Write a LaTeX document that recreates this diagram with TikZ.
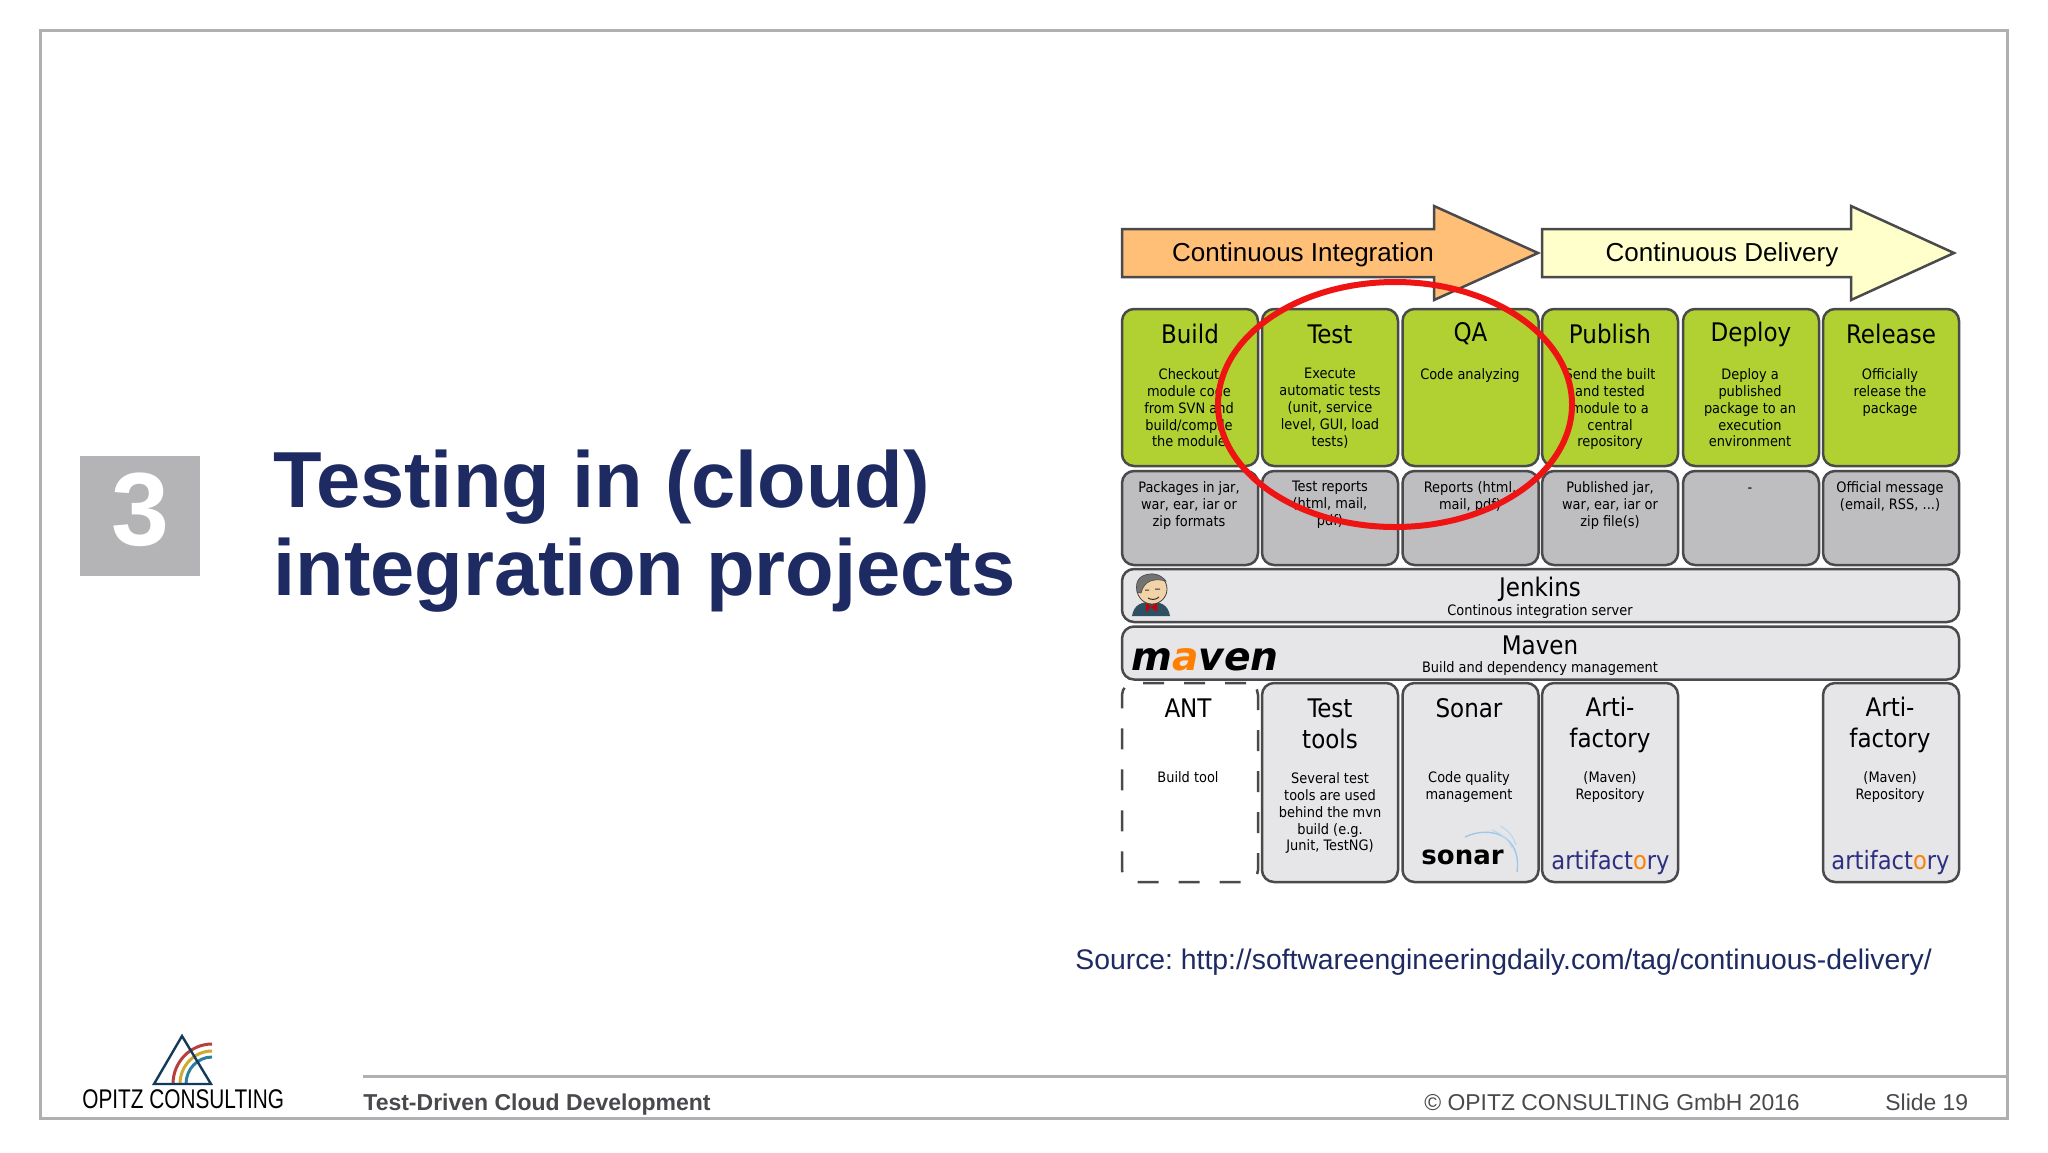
\documentclass[tikz,border=0pt]{standalone}
\usepackage{fontspec}
\setmainfont{Liberation Sans}
\newfontfamily\boxfont{DejaVu Sans Condensed}
\newfontfamily\logofont{DejaVu Sans}
\newfontfamily\opitzfont[FakeStretch=0.77]{Liberation Sans}
\usepackage{tikz}
\usetikzlibrary{positioning}
\definecolor{navytext}{HTML}{1E2A62}
\definecolor{framegrey}{HTML}{B0AFB2}
\definecolor{footgrey}{HTML}{4A484C}
\definecolor{boxline}{HTML}{4A4A4C}
\definecolor{stepgreen}{HTML}{B1D132}
\definecolor{outgrey}{HTML}{BEBDC0}
\definecolor{toolgrey}{HTML}{E6E6E8}
\definecolor{ciorange}{HTML}{FFBF77}
\definecolor{cdyellow}{HTML}{FFFFCC}
\definecolor{circlered}{HTML}{EE1414}
\definecolor{artiblue}{HTML}{2E2F80}
\definecolor{logored}{HTML}{B8403C}
\definecolor{logoyellow}{HTML}{D0A832}
\definecolor{logoteal}{HTML}{2C7F9E}
\definecolor{logonavy}{HTML}{123A5A}
\definecolor{jacketblue}{HTML}{2F4F63}
\definecolor{facetan}{HTML}{F2D3A8}
\definecolor{sonarblue}{HTML}{9CC8EA}
\tikzset{
    slidebox/.style={rectangle,rounded corners=6pt,draw=boxline,line width=1.25pt,minimum width=68pt,inner sep=0pt},
    stepbox/.style={slidebox,fill=stepgreen,minimum height=78.5pt},
    outbox/.style={slidebox,fill=outgrey,minimum height=47pt},
    toolbox/.style={slidebox,fill=toolgrey,minimum height=99.5pt},
    widebox/.style={slidebox,fill=toolgrey,minimum width=418.5pt,minimum height=26.5pt},
    boxtitle/.style={inner sep=0pt,font=\boxfont\fontsize{12.8}{15.7}\selectfont,align=center},
    boxtext/.style={inner sep=0pt,anchor=north,font=\boxfont\fontsize{7.2}{8.45}\selectfont,align=center},
    arrowtext/.style={inner sep=0pt,font=\fontsize{13}{16}\selectfont},
    arrowline/.style={draw=boxline,line width=1.25pt,line join=miter}
}
\begin{document}
\frenchspacing
\begin{tikzpicture}[x=0.5pt,y=-0.5pt]
    \useasboundingbox (0,0) rectangle (2048,1152);
    \draw[framegrey,line width=1.5pt] (40,30) rectangle (2007,1118);

    % left side
    \node[fill=framegrey!95!white,minimum size=60pt,inner sep=0pt] (numbox) at (140,516) {};
    \node[white,font=\bfseries\fontsize{52}{52}\selectfont,inner sep=0pt] (numtext) at (140,510) {3};
    \node[navytext,inner sep=0pt,anchor=west,font=\bfseries\fontsize{39.75}{44}\selectfont,align=left] (headline) at (273,531) {Testing in (cloud)\\integration projects};

    % arrows
    \draw[arrowline,fill=ciorange] (1122,229) -- (1434,229) -- (1434,206) -- (1538,253) -- (1434,300) -- (1434,277) -- (1122,277) -- cycle;
    \draw[arrowline,fill=cdyellow] (1542,229) -- (1851,229) -- (1851,206) -- (1954,253) -- (1851,300) -- (1851,277) -- (1542,277) -- cycle;
    \node[arrowtext] (citext) at (1303,255) {Continuous Integration};
    \node[arrowtext] (cdtext) at (1722,255) {Continuous Delivery};

    % green row
    \node[stepbox] (build) at (1190,387.5) {};
    \node[stepbox] (test) at (1330,387.5) {};
    \node[stepbox] (qa) at (1470.5,387.5) {};
    \node[stepbox] (publish) at (1610,387.5) {};
    \node[stepbox] (deploy) at (1751,387.5) {};
    \node[stepbox] (release) at (1891,387.5) {};
    \node[boxtitle] (buildtitle) at (1190,334) {Build};
    \node[boxtitle] (testtitle) at (1330,334) {Test};
    \node[boxtitle] (qatitle) at (1470.5,334) {QA};
    \node[boxtitle] (publishtitle) at (1610,334) {Publish};
    \node[boxtitle] (deploytitle) at (1751,334) {Deploy};
    \node[boxtitle] (releasetitle) at (1891,334) {Release};
    \node[boxtext] (buildtext) at (1189,368) {Checkout\\module code\\from SVN and\\build/compile\\the module};
    \node[boxtext] (testtext) at (1330,368) {Execute\\automatic tests\\(unit, service\\level, GUI, load\\tests)};
    \node[boxtext] (qatext) at (1470,368) {Code analyzing};
    \node[boxtext] (publishtext) at (1610,368) {Send the built\\and tested\\module to a\\central\\repository};
    \node[boxtext] (deploytext) at (1750,368) {Deploy a\\published\\package to an\\execution\\environment};
    \node[boxtext] (releasetext) at (1890,368) {Officially\\release the\\package};

    % grey row
    \node[outbox] (buildout) at (1190,518) {};
    \node[outbox] (testout) at (1330,518) {};
    \node[outbox] (qaout) at (1470.5,518) {};
    \node[outbox] (publishout) at (1610,518) {};
    \node[outbox] (deployout) at (1751,518) {};
    \node[outbox] (releaseout) at (1891,518) {};
    \node[boxtext] (buildouttext) at (1189,481) {Packages in jar,\\war, ear, iar or\\zip formats};
    \node[boxtext] (testouttext) at (1330,481) {Test reports\\(html, mail,\\pdf)};
    \node[boxtext] (qaouttext) at (1470,481) {Reports (html,\\mail, pdf)};
    \node[boxtext] (publishouttext) at (1610,481) {Published jar,\\war, ear, iar or\\zip file(s)};
    \node[boxtext] (deployouttext) at (1750,480) {\strut-};
    \node[boxtext] (releaseouttext) at (1890,481) {Official message\\(email, RSS, ...)};

    % wide boxes
    \node[widebox] (jenkins) at (1540.5,595.5) {};
    \node[widebox] (maven) at (1540.5,653) {};
    \node[boxtitle] (jenkinstitle) at (1540,589) {Jenkins};
    \node[boxtext] (jenkinstext) at (1540,604) {Continous integration server};
    \node[boxtitle] (maventitle) at (1540,645) {Maven};
    \node[boxtext] (maventext) at (1540,661) {Build and dependency management};

    % butler
    \fill[jacketblue] (1132,616) .. controls (1134,604) and (1142,602) .. (1151,602) .. controls (1160,602) and (1168,604) .. (1170,616) -- cycle;
    \fill[red!80!black] (1151,607) -- (1146,603) -- (1146,612) -- cycle (1151,607) -- (1157,603) -- (1157,612) -- cycle;
    \draw[black!75,fill=facetan,line width=0.4pt] (1152,589) ellipse (15 and 15);
    \draw[black!70,fill=black!55,line width=0.3pt] (1137,592) .. controls (1134,578) and (1143,574) .. (1152,574) .. controls (1158,574) and (1163,577) .. (1166,581) .. controls (1155,578) and (1144,580) .. (1141,593) -- cycle;
    \draw[black!80,line width=0.5pt] (1145,590) -- (1149,590) (1155,589) -- (1160,589) (1148,598) .. controls (1151,600) and (1156,600) .. (1159,597);

    % maven logo
    \node[inner sep=0pt,anchor=base west,font=\logofont\bfseries\itshape\fontsize{19.6}{20}\selectfont] (mavenlogo) at (1131,670) {m\textcolor{orange}{a}ven};

    % bottom row
    \node[toolbox,fill=white,draw=boxline,dash pattern=on 10.5pt off 10pt] (ant) at (1190,782.5) {};
    \node[toolbox] (testtools) at (1330,782.5) {};
    \node[toolbox] (sonar) at (1470.5,782.5) {};
    \node[toolbox] (artifactone) at (1610,782.5) {};
    \node[toolbox] (artifacttwo) at (1891,782.5) {};
    \node[boxtitle] (anttitle) at (1188,708) {ANT};
    \node[boxtitle] (testtoolstitle) at (1330,724) {Test\\tools};
    \node[boxtitle] (sonartitle) at (1469,708) {Sonar};
    \node[boxtitle] (artifactonetitle) at (1610,725) {Arti-\\factory};
    \node[boxtitle] (artifacttwotitle) at (1890,725) {Arti-\\factory};
    \node[boxtext] (anttext) at (1188,771) {Build tool};
    \node[boxtext] (testtoolstext) at (1330,772) {Several test\\tools are used\\behind the mvn\\build (e.g.\\Junit, TestNG)};
    \node[boxtext] (sonartext) at (1469,771) {Code quality\\management};
    \node[boxtext] (artifactonetext) at (1610,771) {(Maven)\\Repository};
    \node[boxtext] (artifacttwotext) at (1890,771) {(Maven)\\Repository};

    % logos in the tool boxes
    \node[inner sep=0pt,anchor=base west,font=\logofont\bfseries\fontsize{13}{14}\selectfont] (sonarlogo) at (1421,864) {sonar};
    \draw[sonarblue,line width=0.7pt] (1465,837) .. controls (1490,825) and (1522,835) .. (1517,872);
    \draw[sonarblue!70,line width=0.6pt] (1500,826) .. controls (1508,830) and (1513,836) .. (1516,845) (1492,830) .. controls (1502,834) and (1509,840) .. (1512,848);
    \node[inner sep=0pt,anchor=base west,artiblue,font=\boxfont\fontsize{12.6}{14}\selectfont] (artilogoone) at (1551,869) {artifact\textcolor{orange}{o}ry};
    \node[inner sep=0pt,anchor=base west,artiblue,font=\boxfont\fontsize{12.6}{14}\selectfont] (artilogotwo) at (1831,869) {artifact\textcolor{orange}{o}ry};

    % red circle
    \draw[circlered,line width=3pt] (1395,404.5) ellipse (177 and 122.5);

    % source
    \node[navytext,inner sep=0pt,anchor=base west,font=\fontsize{14.17}{16}\selectfont] (source) at (1075,969) {Source: http://softwareengineeringdaily.com/tag/continuous-delivery/};

    % footer
    \draw[framegrey,line width=1.5pt] (363,1076) -- (2007,1076);
    \node[footgrey,inner sep=0pt,anchor=base west,font=\bfseries\fontsize{11.5}{14}\selectfont] (foottitle) at (363,1110) {Test-Driven Cloud Development};
    \node[footgrey,inner sep=0pt,anchor=base west,font=\fontsize{11.45}{14}\selectfont] (footcopy) at (1424,1110) {© OPITZ CONSULTING GmbH 2016};
    \node[footgrey,inner sep=0pt,anchor=base west,font=\fontsize{11.45}{14}\selectfont] (footslide) at (1885,1110) {Slide 19};

    % company logo
    \draw[logored,line width=1.5pt] (173,1084) arc (180:270:39 and 40);
    \draw[logoyellow,line width=1.5pt] (180,1084) arc (180:270:32 and 33);
    \draw[logoteal,line width=1.5pt] (186,1084) arc (180:270:26 and 27);
    \draw[logonavy,line width=1.2pt,line join=miter] (182,1036) -- (211,1084) -- (154,1084) -- cycle;
    \node[inner sep=0pt,anchor=base west,font=\opitzfont\fontsize{13.5}{14}\selectfont] (opitztext) at (82,1108) {OPITZ CONSULTING};
\end{tikzpicture}
\end{document}
